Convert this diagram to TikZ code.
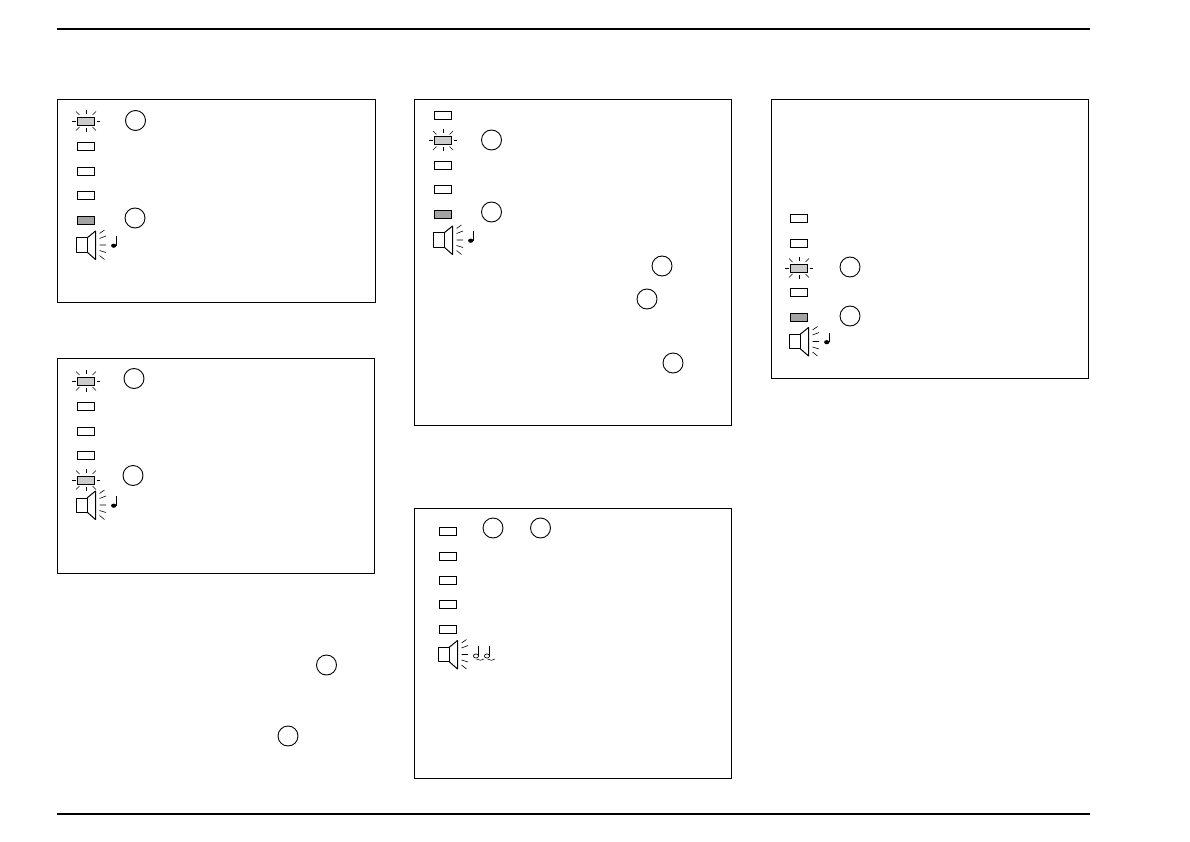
\documentclass[tikz,border=0pt]{standalone}
\usepackage{tikz}
\definecolor{ledlit}{HTML}{CCCCCC}
\definecolor{ledgrey}{HTML}{A3A3A3}
\tikzset{
  ray/.style={line width=0.6pt},
  pics/blink/.style={code={
    \draw[ray] (-14,0)--(-10.5,0) (10.5,0)--(14,0) (0,-11)--(0,-7) (0,7)--(0,11);
    \draw[ray] (-10,-9.5)--(-6.5,-6) (10,-9.5)--(6.5,-6) (-10,9.5)--(-6.5,6) (10,9.5)--(6.5,6);
  }},
  pics/speaker/.style={code={
    \draw[line width=1pt, line join=round] (-11,-7) rectangle (0,7);
    \draw[line width=1pt, line join=round] (0,-7)--(8.5,-14)--(8.5,14.5)--(0,7);
    \draw[ray] (12.5,-11.5)--(17.5,-15) (12.5,-6.5)--(19,-9) (12.5,0)--(19,0)
      (12.5,5.5)--(19,7.5) (12.5,10.5)--(17.5,14.5);
  }},
  pics/quarter/.style={code={
    \fill (0,0) ellipse (2.6 and 2.1);
    \draw[line width=0.9pt] (2.6,0)--(2.6,-9.5);
  }},
  pics/halftied/.style={code={
    \draw[line width=0.7pt] (0,0) ellipse (2.6 and 2.1);
    \draw[line width=0.7pt] (2.6,0)--(2.6,-10);
    \draw[line width=0.5pt] (0.5,3) to[bend right=35] (8,3);
  }}
}
\begin{document}
\begin{tikzpicture}[x=1pt, y=-1pt,
    panel/.style={draw, line width=0.8pt},
    ledoff/.style={draw, line width=0.9pt, minimum width=17.5pt, minimum height=8pt, inner sep=0pt},
    ledon/.style={ledoff, fill=ledlit},
    leddark/.style={ledoff, fill=ledgrey},
    callout/.style={circle, draw, line width=0.9pt, minimum size=20pt, inner sep=0pt},
    rule/.style={line width=2pt}]
  \useasboundingbox (0,0) rectangle (1190,842);
  % page rules
  \coordinate (ruleTL) at (57,29.5);
  \coordinate (ruleTR) at (1090,29.5);
  \coordinate (ruleBL) at (57,813.5);
  \coordinate (ruleBR) at (1090,813.5);
  \draw[rule] (ruleTL)--(ruleTR);
  \draw[rule] (ruleBL)--(ruleBR);
  % panels
  \foreach \n/\xa/\ya/\xb/\yb in {pA/57.5/99.5/375.5/302.5, pB/57.5/358.5/374.5/573.5,
      pC/414.5/99.5/731.5/425.5, pD/414.5/508.5/731.5/778.5, pE/771.5/99.5/1088.5/378.5}
    \draw[panel] (\xa,\ya) rectangle (\xb,\yb);
  % panel A
  \foreach \i/\y in {2/146.5, 3/171, 4/195.5}
    \node[ledoff] (a\i) at (86,\y) {};
  \node[ledon] (a1) at (86,121) {};
  \node[leddark] (a5) at (86,220) {};
  \pic at (a1.center) {blink};
  \pic at (87,245) {speaker};
  \pic at (113.7,245.7) {quarter};
  \node[callout] (ca1) at (135.5,120.5) {};
  \node[callout] (ca2) at (135,218) {};
  % panel B
  \foreach \i/\y in {2/406, 3/431, 4/455}
    \node[ledoff] (b\i) at (86,\y) {};
  \node[ledon] (b1) at (86,381) {};
  \node[ledon] (b5) at (86,480) {};
  \pic at (b1.center) {blink};
  \pic at (b5.center) {blink};
  \pic at (87,505) {speaker};
  \pic at (113.7,505.7) {quarter};
  \node[callout] (cb1) at (134,378.5) {};
  \node[callout] (cb2) at (133,475.5) {};
  % loose callouts below panel B
  \node[callout] (cb3) at (326.5,665) {};
  \node[callout] (cb4) at (288,736) {};
  % panel C
  \foreach \i/\y in {1/115.5, 3/165, 4/189.5}
    \node[ledoff] (c\i) at (443,\y) {};
  \node[ledon] (c2) at (443,140.5) {};
  \node[leddark] (c5) at (443,214.5) {};
  \pic at (c2.center) {blink};
  \pic at (444,240) {speaker};
  \pic at (470.7,240.7) {quarter};
  \foreach \i/\x/\y in {1/491.5/140, 2/491.5/212, 3/662/266, 4/647/299, 5/673/363}
    \node[callout] (cc\i) at (\x,\y) {};
  % panel D
  \foreach \i/\y in {1/531, 2/556, 3/580, 4/604.5, 5/629}
    \node[ledoff] (d\i) at (448,\y) {};
  \pic at (449,654.5) {speaker};
  \pic at (476,656) {halftied};
  \pic at (487,656) {halftied};
  \node[callout] (cd1) at (493,528) {};
  \node[callout] (cd2) at (540.5,528) {};
  % panel E
  \foreach \i/\y in {1/218, 2/243.5, 4/292.5}
    \node[ledoff] (e\i) at (799,\y) {};
  \node[ledon] (e3) at (799,268) {};
  \node[leddark] (e5) at (799,317) {};
  \pic at (e3.center) {blink};
  \pic at (800,341.5) {speaker};
  \pic at (826.7,342.2) {quarter};
  \node[callout] (ce1) at (850,267) {};
  \node[callout] (ce2) at (850,316) {};
\end{tikzpicture}
\end{document}
